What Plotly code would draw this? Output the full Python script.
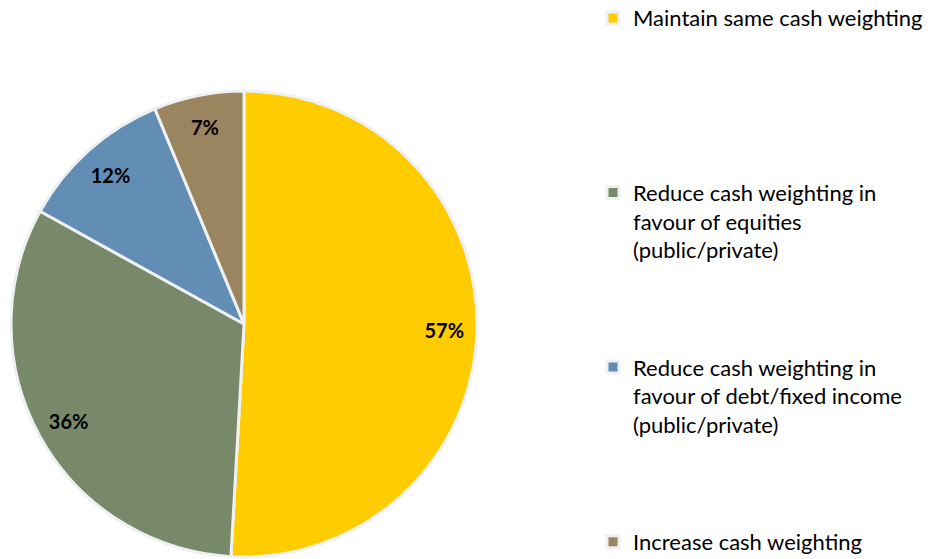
import plotly.graph_objects as go

categories = [
    "Maintain same cash weighting",
    "Reduce cash weighting in<br>favour of equities<br>(public/private)",
    "Reduce cash weighting in<br>favour of debt/fixed income<br>(public/private)",
    "Increase cash weighting",
]
values = [57, 36, 12, 7]
colors = ["#FFCC00", "#778969", "#628EB5", "#9B8560"]
# blank lines to reproduce the wide legend spacing
pad_lines = [5, 3, 3, 0]

legend_labels = [c + "<br> " * p for c, p in zip(categories, pad_lines)]
pie_domain = dict(x=[0.0032, 0.4995], y=[0.0179, 0.8515])

fig = go.Figure()
# coloured slices (no text)
fig.add_trace(
    go.Pie(
        labels=legend_labels,
        values=values,
        sort=False,
        direction="clockwise",
        rotation=0,
        marker=dict(colors=colors, line=dict(color="#EEF0F2", width=3)),
        textinfo="none",
        domain=pie_domain,
        hoverinfo="label+value",
    )
)
# transparent ring carrying the data labels near the rim
fig.add_trace(
    go.Pie(
        labels=legend_labels,
        values=values,
        sort=False,
        direction="clockwise",
        rotation=0,
        hole=0.72,
        marker=dict(colors=["rgba(0,0,0,0)"] * len(values), line=dict(width=0)),
        texttemplate="%{value}%",
        textposition="inside",
        insidetextorientation="horizontal",
        textfont=dict(family="Lato", size=20, color="black", weight="bold"),
        domain=pie_domain,
        showlegend=False,
        hoverinfo="skip",
    )
)

fig.update_layout(
    width=939,
    height=559,
    margin=dict(l=0, r=0, t=0, b=0, autoexpand=False),
    paper_bgcolor="white",
    plot_bgcolor="white",
    showlegend=True,
    legend=dict(
        x=0.623,
        y=1.0195,
        xanchor="left",
        yanchor="top",
        valign="top",
        maxheight=800,
        font=dict(family="Lato", size=22, color="black"),
        bgcolor="rgba(0,0,0,0)",
    ),
)

fig.write_html("out.html")
